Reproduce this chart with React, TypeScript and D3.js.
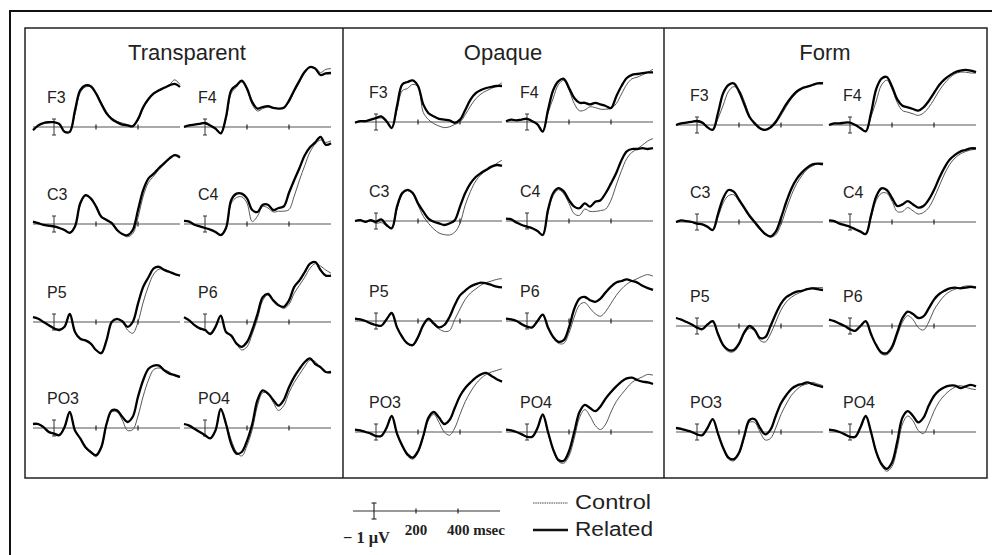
import React from "react";
import * as d3 from "d3";

// time points (ms)
const times = [-100, -75, -50, -25, 0, 25, 50, 75, 100, 125, 150, 175, 200, 225, 250, 275, 300, 325, 350, 375, 400, 425, 450, 475, 500, 525, 550, 575, 600];
const conditions = ["Transparent", "Opaque", "Form"];
const electrodes = ["F3", "F4", "C3", "C4", "P5", "P6", "PO3", "PO4"];
const scaleTicks = [200, 400];
const legendLabels = ["Control", "Related"];

// amplitudes in µV (plotted upward), Transparent
const tF3Rel = [-0.4, 0.2, 0.5, 0.6, 0.6, 0.4, -0.6, -0.6, 2.1, 4.6, 5.2, 5.1, 4.2, 2.9, 1.7, 1.0, 0.6, 0.3, 0.2, 0.1, 1.0, 2.5, 3.5, 4.2, 4.6, 4.9, 5.2, 5.4, 5.0];
const tF3Con = [-0.3, 0.1, 0.4, 0.5, 0.6, 0.3, -0.5, -0.6, 1.6, 4.3, 5.0, 5.0, 4.3, 3.1, 1.9, 1.1, 0.7, 0.5, 0.3, 0.1, 0.8, 2.3, 3.4, 4.1, 4.5, 4.9, 5.3, 5.9, 5.3];
const tF4Rel = [0, 0.2, 0.3, 0.4, 0.5, 0.2, -0.2, -0.8, 1.25, 4.6, 5.2, 5.8, 4.8, 3.1, 2.3, 2.5, 2.6, 2.4, 2.3, 2.4, 3.3, 4.6, 5.8, 6.9, 7.5, 7.3, 6.5, 6.7, 6.75];
const tF4Con = [0.1, 0.2, 0.3, 0.4, 0.4, 0.2, -0.1, -0.7, 1.0, 4.2, 5.0, 5.6, 4.7, 2.8, 2.0, 2.3, 2.5, 2.4, 2.3, 2.4, 3.1, 4.4, 5.6, 6.8, 7.4, 7.4, 6.8, 7.2, 7.3];
const tC3Rel = [0.3, 0.1, -0.1, -0.2, -0.3, -0.5, -0.75, -1.1, -0.3, 2.6, 3.6, 3.2, 2.2, 0.9, 0.5, 0.1, -0.75, -1.25, -1.4, -0.75, 1.75, 4.25, 5.7, 6.3, 7.0, 7.6, 8.2, 8.6, 8.3];
const tC3Con = [0.3, 0.1, -0.1, -0.3, -0.4, -0.5, -0.8, -1.0, -0.2, 2.4, 3.5, 3.2, 2.3, 1.0, 0.6, 0.2, -0.6, -1.3, -1.6, -1.2, 0.8, 3.5, 5.2, 6.0, 6.8, 7.5, 8.1, 8.7, 8.5];
const tC4Rel = [0.4, 0.3, -0.1, -0.3, -0.5, -0.7, -1.0, -1.4, -0.5, 3.0, 3.8, 3.8, 3.2, 1.75, 1.5, 2.4, 2.4, 1.75, 2.0, 2.2, 3.9, 5.5, 7.0, 8.6, 9.6, 10.2, 10.9, 9.9, 10.1];
const tC4Con = [0.4, 0.3, -0.1, -0.3, -0.5, -0.7, -1.0, -1.3, -0.6, 2.6, 3.3, 3.4, 2.6, 0.3, 1.0, 2.2, 2.0, 1.5, 1.6, 1.6, 1.8, 3.5, 5.5, 7.3, 9.0, 10.0, 10.5, 10.2, 10.4];
const tP5Rel = [0.6, 0.4, 0, -0.4, -0.8, -1.0, -0.6, 1.0, -1.25, -2.1, -2.3, -2.7, -3.5, -3.9, -2.3, 0, 0.4, 0.1, -0.6, 0, 2.3, 4.4, 5.6, 6.7, 6.9, 6.5, 6.25, 6.0, 5.8];
const tP5Con = [0.6, 0.4, 0, -0.4, -0.8, -0.9, -0.6, 0.9, -1.2, -2.1, -2.3, -2.8, -3.5, -3.8, -2.2, 0, 0.3, 0, -1.0, -1.4, 0, 2.5, 4.5, 6.0, 6.6, 6.6, 6.3, 5.9, 5.8];
const tP6Rel = [0.6, 0.2, -0.4, -0.8, -1.0, -1.5, -0.6, 0.8, -1.25, -1.7, -2.7, -3.1, -2.5, -1.0, 1.0, 3.1, 3.5, 2.7, 2.1, 1.9, 2.7, 4.4, 5.2, 6.25, 7.3, 7.5, 6.5, 5.8, 5.8];
const tP6Con = [0.6, 0.2, -0.4, -0.8, -1.0, -1.4, -0.6, 0.7, -1.2, -1.8, -2.7, -3.5, -3.1, -1.5, 0.4, 2.7, 3.4, 2.7, 2.1, 1.7, 2.2, 3.6, 4.6, 5.6, 6.7, 7.3, 7.0, 6.5, 6.1];
const tPO3Rel = [0.5, 0.5, 0.1, -0.5, -0.7, -0.9, 0.1, 2.0, -0.3, -1.3, -2.4, -3.0, -3.4, -2.4, 0.5, 2.2, 2.2, 1.4, 0.75, 1.4, 3.9, 6.0, 7.4, 7.8, 7.8, 7.2, 6.8, 6.6, 6.4];
const tPO3Con = [0.5, 0.4, 0.1, -0.4, -0.7, -0.8, 0.1, 1.9, -0.3, -1.4, -2.5, -3.1, -3.6, -2.6, 0.3, 2.0, 2.0, 1.0, -0.3, -0.2, 1.5, 4.0, 6.0, 7.3, 7.5, 7.3, 7.0, 6.5, 6.3];
const tPO4Rel = [0.5, 0.3, -0.1, -0.5, -0.9, -1.3, -0.3, 2.4, 0.5, -2.0, -3.2, -3.0, -1.6, 0.5, 3.5, 4.7, 4.3, 3.5, 2.8, 3.5, 5.1, 6.4, 7.4, 8.25, 8.7, 8.0, 7.6, 7.0, 7.0];
const tPO4Con = [0.5, 0.3, -0.1, -0.5, -0.9, -1.2, -0.3, 2.2, 0.6, -1.5, -3.0, -3.5, -2.2, -0.2, 2.8, 4.4, 4.3, 3.2, 2.2, 2.8, 4.4, 5.7, 6.7, 7.7, 8.5, 8.3, 7.5, 7.0, 6.9];

// Opaque
const oF3Rel = [-0.1, 0.1, 0.1, 0.3, 0.5, 0.7, 0.1, -0.75, 2.0, 4.7, 5.0, 5.2, 4.5, 2.2, 1.1, 0.7, 0.4, 0.3, 0.2, -0.1, 0.3, 1.5, 2.8, 3.6, 4.0, 4.25, 4.4, 4.5, 4.5];
const oF3Con = [-0.1, 0.1, 0.1, 0.3, 0.4, 0.5, 0.0, -0.7, 1.5, 3.9, 4.2, 4.7, 4.4, 1.2, 0.3, -0.2, -0.5, -0.7, -0.6, -0.3, 0, 0.9, 2.0, 2.9, 3.5, 3.9, 4.2, 4.5, 4.9];
const oF4Rel = [0.1, 0.3, 0.2, 0.3, 0.4, 0.1, -0.3, -1.2, 1.5, 4.0, 5.1, 5.4, 4.25, 3.0, 2.4, 2.4, 2.2, 2.4, 2.2, 2.0, 1.75, 3.2, 4.5, 5.5, 5.9, 6.0, 6.1, 6.2, 6.2];
const oF4Con = [0.1, 0.3, 0.2, 0.3, 0.4, 0.1, -0.3, -1.1, 1.1, 3.0, 4.7, 5.2, 4.0, 2.3, 1.4, 1.5, 1.9, 1.8, 1.6, 1.6, 1.7, 2.3, 3.5, 4.7, 5.4, 5.6, 5.9, 6.2, 6.6];
const oC3Rel = [0, 0.1, -0.1, 0.1, -0.1, 0.2, -0.5, -0.9, 1.8, 3.5, 3.9, 3.5, 2.2, 1.2, 0.3, -0.1, -0.3, -0.5, -0.3, 0.1, 1.8, 3.5, 4.7, 5.5, 6.0, 6.4, 6.8, 7.0, 6.9];
const oC3Con = [0, 0.1, -0.1, 0, -0.3, -0.2, -0.6, -1.0, 1.5, 3.3, 3.8, 3.4, 2.0, 0.6, -0.3, -1.0, -1.5, -1.7, -1.75, -1.4, -0.3, 2.0, 3.7, 5.0, 5.8, 6.3, 6.7, 7.2, 7.6];
const oC4Rel = [0.3, 0.2, -0.2, -0.5, -0.7, -0.9, -1.25, -1.75, 1.4, 3.5, 4.1, 3.7, 2.6, 1.8, 1.6, 2.2, 1.8, 2.4, 2.6, 3.5, 4.7, 6.0, 7.6, 8.7, 9.0, 9.0, 9.1, 9.0, 9.1];
const oC4Con = [0.3, 0.2, -0.2, -0.5, -0.7, -0.9, -1.2, -1.7, 1.0, 3.2, 3.9, 3.4, 2.2, 0.9, 0.7, 1.5, 1.2, 1.2, 1.3, 1.5, 2.6, 4.5, 6.3, 7.8, 8.6, 9.0, 9.5, 10.0, 10.3];
const oP5Rel = [0.3, 0.2, 0, -0.3, -0.5, -0.6, 0.2, 1.0, -0.8, -2.0, -2.8, -3.0, -2.0, -0.5, 0.3, -0.3, -0.8, -0.5, 0.5, 2.0, 3.2, 3.8, 4.3, 4.6, 4.8, 4.7, 4.5, 4.3, 4.2];
const oP5Con = [0.3, 0.2, 0, -0.3, -0.5, -0.6, 0.2, 0.9, -0.8, -2.0, -2.9, -3.1, -2.2, -0.7, 0.1, -0.5, -1.0, -1.3, -1.2, 0.2, 1.5, 2.7, 3.5, 4.0, 4.5, 4.8, 5.0, 5.2, 5.3];
const oP6Rel = [0.3, 0.2, 0, -0.4, -0.7, -0.8, 0, 0.8, -0.8, -2.0, -2.6, -2.4, -0.8, 1.5, 2.8, 3.0, 2.6, 2.4, 2.8, 3.6, 4.3, 4.8, 5.0, 5.2, 5.0, 4.8, 4.4, 4.1, 3.9];
const oP6Con = [0.3, 0.2, 0, -0.4, -0.7, -0.8, 0, 0.7, -0.9, -2.1, -2.8, -2.8, -1.5, 0.5, 2.0, 2.3, 1.6, 0.9, 0.6, 1.2, 2.2, 3.2, 4.0, 4.6, 5.0, 5.3, 5.6, 5.8, 5.6];
const oPO3Rel = [0.3, 0.2, 0, -0.2, -0.5, -0.5, 0.5, 2.0, -0.2, -1.7, -2.8, -3.2, -2.4, -0.5, 1.8, 2.5, 1.8, 1.0, 1.5, 3.0, 4.5, 5.5, 6.2, 6.8, 7.2, 7.4, 7.0, 6.6, 6.3];
const oPO3Con = [0.3, 0.2, 0, -0.2, -0.5, -0.5, 0.5, 1.9, -0.3, -1.8, -3.0, -3.4, -2.6, -0.7, 1.5, 2.2, 1.2, 0, -0.4, 0.5, 2.2, 3.8, 5.0, 6.0, 6.7, 7.2, 7.5, 7.7, 7.9];
const oPO4Rel = [0.3, 0.2, 0, -0.3, -0.6, -0.6, 0.5, 2.2, 0, -2.2, -3.5, -3.6, -2.4, 0, 2.5, 3.4, 3.0, 2.6, 3.2, 4.2, 5.0, 5.7, 6.3, 6.7, 6.8, 6.5, 6.3, 6.2, 6.0];
const oPO4Con = [0.3, 0.2, 0, -0.3, -0.6, -0.6, 0.5, 2.0, -0.1, -2.3, -3.7, -3.9, -3.0, -0.8, 1.8, 2.8, 2.0, 0.8, 0.3, 1.0, 2.5, 3.8, 4.7, 5.5, 6.2, 6.6, 6.9, 7.2, 7.1];

// Form
const fF3Rel = [0, 0.2, 0.3, 0.4, 0.5, 0.3, -0.3, -0.6, 1.5, 4.0, 5.0, 5.2, 4.2, 2.6, 1.0, 0.2, -0.4, -0.6, -0.3, 0.4, 1.5, 2.6, 3.5, 4.2, 4.6, 4.8, 5.0, 5.2, 5.2];
const fF3Con = [0, 0.2, 0.3, 0.4, 0.4, 0.2, -0.3, -0.6, 0.8, 2.5, 4.2, 4.8, 4.4, 3.0, 1.2, 0.1, -0.5, -0.6, -0.4, 0.2, 1.2, 2.3, 3.3, 4.0, 4.5, 4.8, 5.0, 5.2, 5.3];
const fF4Rel = [0, 0.2, 0.2, 0.3, 0.3, 0, -0.4, -0.8, 1.5, 4.5, 5.8, 6.0, 4.8, 3.2, 2.4, 2.2, 2.0, 1.8, 2.2, 3.0, 4.0, 5.0, 5.7, 6.2, 6.6, 6.8, 6.9, 6.8, 6.6];
const fF4Con = [0, 0.2, 0.2, 0.3, 0.3, 0, -0.4, -0.8, 1.0, 3.0, 5.0, 5.6, 4.5, 2.8, 1.8, 1.6, 1.4, 1.2, 1.5, 2.2, 3.2, 4.3, 5.2, 5.9, 6.4, 6.6, 6.6, 6.5, 6.5];
const fC3Rel = [0, 0.2, 0.1, 0, -0.2, -0.3, -0.6, -1.0, 1.0, 3.0, 4.0, 3.8, 2.8, 1.8, 0.8, 0, -0.8, -1.5, -1.8, -1.2, 0.5, 2.5, 4.2, 5.4, 6.2, 6.8, 7.2, 7.3, 7.2];
const fC3Con = [0, 0.2, 0.1, 0, -0.2, -0.3, -0.6, -1.0, 0.6, 2.4, 3.3, 3.4, 2.6, 1.6, 0.6, -0.2, -1.0, -1.6, -1.9, -1.6, -0.3, 1.6, 3.4, 4.8, 5.8, 6.6, 7.0, 7.3, 7.4];
const fC4Rel = [0.2, 0.1, -0.2, -0.4, -0.6, -0.9, -1.2, -1.5, 0.8, 3.2, 4.2, 4.0, 3.0, 2.0, 2.2, 2.6, 2.2, 1.8, 2.0, 2.8, 4.0, 5.5, 6.8, 7.8, 8.4, 8.8, 9.0, 9.2, 9.2];
const fC4Con = [0.2, 0.1, -0.2, -0.4, -0.6, -0.9, -1.2, -1.5, 0.5, 2.7, 3.6, 3.6, 2.6, 1.3, 1.3, 1.8, 1.4, 1.0, 1.2, 1.8, 3.0, 4.5, 6.0, 7.2, 8.0, 8.5, 8.8, 9.0, 9.1];
const fP5Rel = [1.0, 0.8, 0.5, 0.2, -0.2, -0.4, 0.2, 0.6, -1.0, -2.4, -3.0, -3.0, -2.2, -0.8, 0, -0.5, -1.5, -1.4, 0, 1.5, 2.8, 3.6, 4.0, 4.3, 4.4, 4.6, 4.7, 4.6, 4.5];
const fP5Con = [1.0, 0.8, 0.5, 0.2, -0.2, -0.4, 0.2, 0.5, -1.1, -2.5, -3.2, -3.2, -2.4, -1.0, -0.3, -0.6, -1.8, -2.0, -1.0, 0.5, 2.0, 3.0, 3.6, 4.0, 4.3, 4.6, 4.8, 4.8, 4.8];
const fP6Rel = [0.8, 0.6, 0.3, 0, -0.4, -0.6, 0, 0.6, -1.0, -2.4, -3.3, -3.4, -2.6, -0.8, 1.0, 1.8, 1.5, 1.0, 1.2, 2.2, 3.3, 4.0, 4.4, 4.7, 4.8, 4.7, 4.8, 4.9, 4.8];
const fP6Con = [0.8, 0.6, 0.3, 0, -0.4, -0.6, 0, 0.5, -1.1, -2.5, -3.5, -3.6, -2.9, -1.2, 0.5, 1.3, 0.8, -0.2, -0.5, 0.5, 2.0, 3.0, 3.8, 4.3, 4.6, 4.8, 5.0, 5.0, 4.9];
const fPO3Rel = [0.5, 0.4, 0.2, 0, -0.3, -0.4, 0.5, 1.6, -0.2, -2.0, -3.2, -3.4, -2.6, -0.5, 1.5, 1.6, 0.5, -0.3, 0.3, 2.0, 3.6, 4.6, 5.4, 5.8, 6.0, 6.2, 6.0, 5.8, 5.6];
const fPO3Con = [0.5, 0.4, 0.2, 0, -0.3, -0.4, 0.5, 1.5, -0.3, -2.1, -3.4, -3.6, -2.8, -0.8, 1.2, 1.2, 0, -1.0, -0.8, 0.5, 2.2, 3.5, 4.6, 5.3, 5.8, 6.0, 6.2, 6.0, 5.8];
const fPO4Rel = [0.3, 0.2, 0, -0.3, -0.6, -0.6, 0.6, 2.0, 0, -2.5, -4.0, -4.6, -3.8, -1.2, 1.8, 2.6, 2.0, 1.2, 1.8, 3.3, 4.5, 5.2, 5.6, 5.8, 5.8, 5.5, 5.7, 5.9, 5.7];
const fPO4Con = [0.3, 0.2, 0, -0.3, -0.6, -0.6, 0.6, 1.9, -0.1, -2.6, -4.2, -4.9, -4.3, -2.0, 1.0, 2.0, 1.4, 0.2, -0.2, 1.0, 2.6, 3.8, 4.6, 5.2, 5.6, 5.8, 5.6, 5.4, 5.3];

const relatedByCondition = [
  [tF3Rel, tF4Rel, tC3Rel, tC4Rel, tP5Rel, tP6Rel, tPO3Rel, tPO4Rel],
  [oF3Rel, oF4Rel, oC3Rel, oC4Rel, oP5Rel, oP6Rel, oPO3Rel, oPO4Rel],
  [fF3Rel, fF4Rel, fC3Rel, fC4Rel, fP5Rel, fP6Rel, fPO3Rel, fPO4Rel],
];
const controlByCondition = [
  [tF3Con, tF4Con, tC3Con, tC4Con, tP5Con, tP6Con, tPO3Con, tPO4Con],
  [oF3Con, oF4Con, oC3Con, oC4Con, oP5Con, oP6Con, oPO3Con, oPO4Con],
  [fF3Con, fF4Con, fC3Con, fC4Con, fP5Con, fP6Con, fPO3Con, fPO4Con],
];

// layout
const W = 992, H = 555;
const PX_PER_UV = 8;
const TRACE_W = 147;
const panelEdges = [25, 343, 664, 987];
const titleX = [187, 503, 825];
const colStarts = [[33, 184], [355, 506], [676, 829]];
const rowBaselines = [[127, 224, 322, 428], [122, 221, 321, 432], [125, 222, 326, 432]];

const SANS = "'Liberation Sans', Arial, Helvetica, sans-serif";
const SERIF = "'Liberation Serif', 'Times New Roman', serif";

function Cell({ x0, base, label, rel, con }) {
  const x = d3.scaleLinear().domain([times[0], times[times.length - 1]]).range([x0, x0 + TRACE_W]);
  const y = d3.scaleLinear().domain([-1, 1]).range([base + PX_PER_UV, base - PX_PER_UV]);
  const line = d3
    .line<number>()
    .x((_, i) => x(times[i]))
    .y((v) => y(v))
    .curve(d3.curveCatmullRom.alpha(0.5));
  return (
    <g>
      <line x1={x0} x2={x0 + TRACE_W} y1={y(0)} y2={y(0)} stroke="#555" strokeWidth={1.1} />
      {scaleTicks.map((t) => (
        <line key={t} x1={x(t)} x2={x(t)} y1={y(0) - 2.5} y2={y(0) + 2.5} stroke="#222" strokeWidth={1.2} />
      ))}
      <line x1={x(0)} x2={x(0)} y1={y(1)} y2={y(-1)} stroke="#333" strokeWidth={1} />
      <line x1={x(0) - 2} x2={x(0) + 2} y1={y(1)} y2={y(1)} stroke="#333" strokeWidth={1} />
      <line x1={x(0) - 2} x2={x(0) + 2} y1={y(-1)} y2={y(-1)} stroke="#333" strokeWidth={1} />
      <path d={line(con) || ""} fill="none" stroke="#444" strokeWidth={0.9} />
      <path d={line(rel) || ""} fill="none" stroke="#000" strokeWidth={2.3} strokeLinejoin="round" />
      <text x={x0 + 14} y={base - 24} fontFamily={SANS} fontSize={16} fill="#222">
        {label}
      </text>
    </g>
  );
}

export default function App() {
  const legX = d3.scaleLinear().domain([-100, 600]).range([353, 500]);
  const legY = d3.scaleLinear().domain([-1, 1]).range([511 + PX_PER_UV, 511 - PX_PER_UV]);
  return (
    <svg width={W} height={H} viewBox={`0 0 ${W} ${H}`} style={{ position: "absolute", left: 0, top: 0, background: "#fff" }}>
      <rect x={0} y={0} width={W} height={H} fill="#fff" />
      <rect x={10} y={11} width={1100} height={700} fill="none" stroke="#111" strokeWidth={2} />
      <rect x={panelEdges[0]} y={28} width={panelEdges[3] - panelEdges[0]} height={450} fill="none" stroke="#222" strokeWidth={1.5} />
      {panelEdges.slice(1, 3).map((px) => (
        <line key={px} x1={px} x2={px} y1={28} y2={478} stroke="#222" strokeWidth={1.5} />
      ))}
      {conditions.map((c, ci) => (
        <g key={c}>
          <text x={titleX[ci]} y={60} textAnchor="middle" fontFamily={SANS} fontSize={22} fill="#222">
            {c}
          </text>
          {electrodes.map((e, ei) => (
            <Cell
              key={e}
              x0={colStarts[ci][ei % 2]}
              base={rowBaselines[ci][Math.floor(ei / 2)]}
              label={e}
              rel={relatedByCondition[ci][ei]}
              con={controlByCondition[ci][ei]}
            />
          ))}
        </g>
      ))}
      {/* scale legend */}
      <g>
        <line x1={legX(-100)} x2={legX(600)} y1={legY(0)} y2={legY(0)} stroke="#333" strokeWidth={1.1} />
        {scaleTicks.map((t) => (
          <line key={t} x1={legX(t)} x2={legX(t)} y1={legY(0) - 2.5} y2={legY(0) + 2.5} stroke="#222" strokeWidth={1.2} />
        ))}
        <line x1={legX(0)} x2={legX(0)} y1={legY(1)} y2={legY(-1)} stroke="#222" strokeWidth={1.1} />
        <line x1={legX(0) - 2.5} x2={legX(0) + 2.5} y1={legY(1)} y2={legY(1)} stroke="#222" strokeWidth={1.1} />
        <line x1={legX(0) - 2.5} x2={legX(0) + 2.5} y1={legY(-1)} y2={legY(-1)} stroke="#222" strokeWidth={1.1} />
        <text x={343} y={543} fontFamily={SERIF} fontWeight="bold" fontSize={16} fill="#222" textLength={47} lengthAdjust="spacingAndGlyphs">
          − 1 μV
        </text>
        <text x={legX(200)} y={535} textAnchor="middle" fontFamily={SERIF} fontWeight="bold" fontSize={15} fill="#222">
          {scaleTicks[0]}
        </text>
        <text x={legX(400) - 11} y={535} fontFamily={SERIF} fontWeight="bold" fontSize={15} fill="#222">
          {scaleTicks[1]} msec
        </text>
      </g>
      <g>
        <line x1={533} x2={568} y1={503} y2={503} stroke="#444" strokeWidth={1} strokeDasharray="1.5,0.8" />
        <text x={575} y={509} fontFamily={SANS} fontSize={20} fill="#222" textLength={76} lengthAdjust="spacingAndGlyphs">
          {legendLabels[0]}
        </text>
        <line x1={533} x2={568} y1={530} y2={530} stroke="#111" strokeWidth={2.5} />
        <text x={575} y={536} fontFamily={SANS} fontSize={20} fill="#222" textLength={78} lengthAdjust="spacingAndGlyphs">
          {legendLabels[1]}
        </text>
      </g>
    </svg>
  );
}
